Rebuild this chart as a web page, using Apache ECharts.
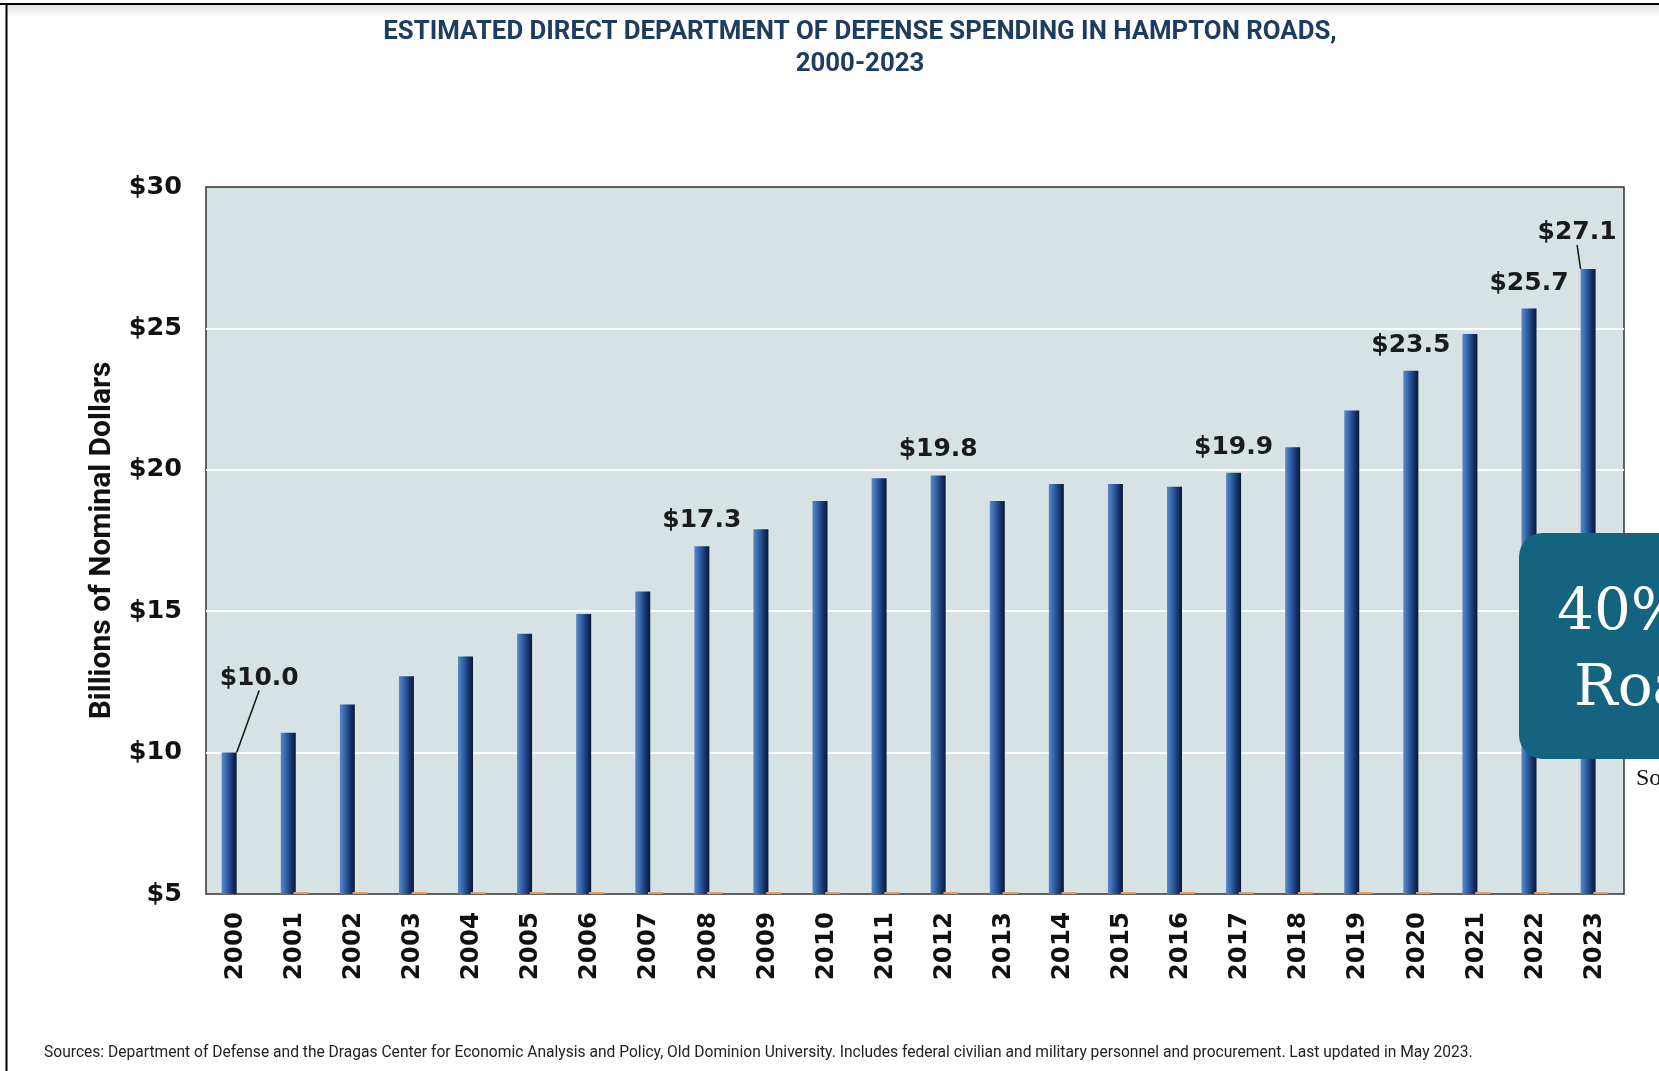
<!DOCTYPE html>
<html>
<head>
<meta charset="utf-8">
<script src="https://cdn.jsdelivr.net/npm/echarts/dist/echarts.min.js"></script>
<style>
html, body { margin: 0; padding: 0; background: #fff; }
#chart { width: 1659px; height: 1071px; }
</style>
</head>
<body>
<div id="chart"></div>
<script>
// values, billions of nominal dollars
var years = ['2000', '2001', '2002', '2003', '2004', '2005', '2006', '2007', '2008', '2009', '2010', '2011',
    '2012', '2013', '2014', '2015', '2016', '2017', '2018', '2019', '2020', '2021', '2022', '2023'];
var spending = [10.0, 10.7, 11.7, 12.7, 13.4, 14.2, 14.9, 15.7, 17.3, 17.9, 18.9, 19.7,
    19.8, 18.9, 19.5, 19.5, 19.4, 19.9, 20.8, 22.1, 23.5, 24.8, 25.7, 27.1];
// the small orange dashes sitting on the baseline
var other = [null, 5.07, 5.07, 5.07, 5.07, 5.07, 5.07, 5.07, 5.07, 5.07, 5.07, 5.07,
    5.07, 5.07, 5.07, 5.07, 5.07, 5.07, 5.07, 5.07, 5.07, 5.07, 5.07, 5.07];
var labelled = ['2000', '2008', '2012', '2017', '2020', '2022', '2023'];
var yTicks = [5, 10, 15, 20, 25, 30];

var chart = echarts.init(document.getElementById('chart'));

var barColor = new echarts.graphic.LinearGradient(0, 0, 1, 0, [
    {offset: 0, color: '#5a8acb'},
    {offset: 0.35, color: '#3262a8'},
    {offset: 0.7, color: '#17366f'},
    {offset: 1, color: '#0a1733'}
]);

var barData = [];
for (var i = 0; i < years.length; i++) {
    var item = {value: spending[i]};
    if (labelled.indexOf(years[i]) >= 0) {
        item.label = {show: true};
        if (i === 0 || i === years.length - 1) {
            item.labelLine = {show: true};
        }
    }
    barData.push(item);
}

var option = {
    animation: false,
    backgroundColor: '#fff',
    grid: {
        left: 206, right: 35, top: 187, bottom: 177,
        show: true,
        backgroundColor: '#d7e2e5',
        borderColor: '#333',
        borderWidth: 1.5
    },
    xAxis: {
        type: 'category',
        data: years,
        axisLine: {show: false},
        axisTick: {show: false},
        axisLabel: {
            rotate: 90, margin: 18,
            fontFamily: 'DejaVu Sans', fontWeight: 'bold', fontSize: 24.5, color: '#111'
        }
    },
    yAxis: {
        type: 'value',
        min: yTicks[0], max: yTicks[yTicks.length - 1], interval: 5,
        name: 'Billions of Nominal Dollars',
        nameLocation: 'middle',
        nameGap: 79,
        nameTextStyle: {fontFamily: 'Roboto', fontWeight: 'bold', fontSize: 30, color: '#111'},
        axisLine: {show: false},
        axisTick: {show: false},
        axisLabel: {
            margin: 24,
            fontFamily: 'DejaVu Sans', fontWeight: 'bold', fontSize: 25.5, color: '#111',
            formatter: function (v) { return '$' + v; }
        },
        splitLine: {showMinLine: false, showMaxLine: false, lineStyle: {color: '#ffffff', width: 2}}
    },
    series: [{
        name: 'spending',
        type: 'bar',
        data: barData,
        barWidth: 15,
        barGap: '-15%',
        itemStyle: {color: barColor},
        label: {
            show: false,
            position: 'top',
            distance: 13,
            fontFamily: 'DejaVu Sans', fontWeight: 'bold', fontSize: 25, color: '#1a1a1a',
            formatter: function (p) { return '$' + p.value.toFixed(1); }
        },
        labelLine: {show: false, lineStyle: {color: '#111', width: 1.5}},
        labelLayout: function (p) {
            if (p.dataIndex === 0) return {dx: 30, dy: -49};
            if (p.dataIndex === years.length - 1) return {dx: -11, dy: -11};
            return {};
        }
    }, {
        name: 'other',
        type: 'bar',
        data: other,
        barWidth: 15,
        itemStyle: {color: '#ec9a5c'}
    }],
    graphic: [
        // frame
        {type: 'rect', shape: {x: 7, y: 5, width: 1652, height: 12},
            style: {fill: new echarts.graphic.LinearGradient(0, 0, 0, 1, [
                {offset: 0, color: '#e4e4e4'}, {offset: 1, color: '#ffffff'}])}, z: 1},
        {type: 'rect', shape: {x: 0, y: 3, width: 1659, height: 2}, style: {fill: '#000'}, z: 2},
        {type: 'rect', shape: {x: 5.5, y: 3, width: 2, height: 1068}, style: {fill: '#000'}, z: 2},
        // title
        {type: 'text', x: 860, y: 33, z: 5,
            style: {text: 'ESTIMATED DIRECT DEPARTMENT OF DEFENSE SPENDING IN HAMPTON ROADS,',
                fontFamily: 'Roboto', fontWeight: 'bold', fontSize: 25.8, fill: '#1d3c61',
                textAlign: 'center', textVerticalAlign: 'middle'}},
        {type: 'text', x: 860, y: 65, z: 5,
            style: {text: '2000-2023',
                fontFamily: 'Roboto', fontWeight: 'bold', fontSize: 25.8, fill: '#1d3c61',
                textAlign: 'center', textVerticalAlign: 'middle'}},
        // sources
        {type: 'text', x: 44, y: 1053, z: 5,
            style: {text: 'Sources: Department of Defense and the Dragas Center for Economic Analysis and Policy, Old Dominion University. Includes federal civilian and military personnel and procurement. Last updated in May 2023.',
                fontFamily: 'Roboto', fontSize: 15.6, fill: '#222', textVerticalAlign: 'middle'}},
        // teal call-out box cut off at the right edge
        {type: 'rect', shape: {x: 1519, y: 533, width: 220, height: 226, r: 24},
            style: {fill: '#14637f'}, z: 100},
        {type: 'text', x: 1557, y: 614, z: 101,
            style: {text: '40%', fontFamily: 'DejaVu Serif', fontSize: 58, fill: '#fff', textVerticalAlign: 'middle'}},
        {type: 'text', x: 1574, y: 690, z: 101,
            style: {text: 'Roads', fontFamily: 'DejaVu Serif', fontSize: 58, fill: '#fff', textVerticalAlign: 'middle'}},
        {type: 'text', x: 1636, y: 779, z: 101,
            style: {text: 'Source', fontFamily: 'Liberation Serif', fontSize: 24, fill: '#111', textVerticalAlign: 'middle'}}
    ]
};

chart.setOption(option);
</script>
</body>
</html>
